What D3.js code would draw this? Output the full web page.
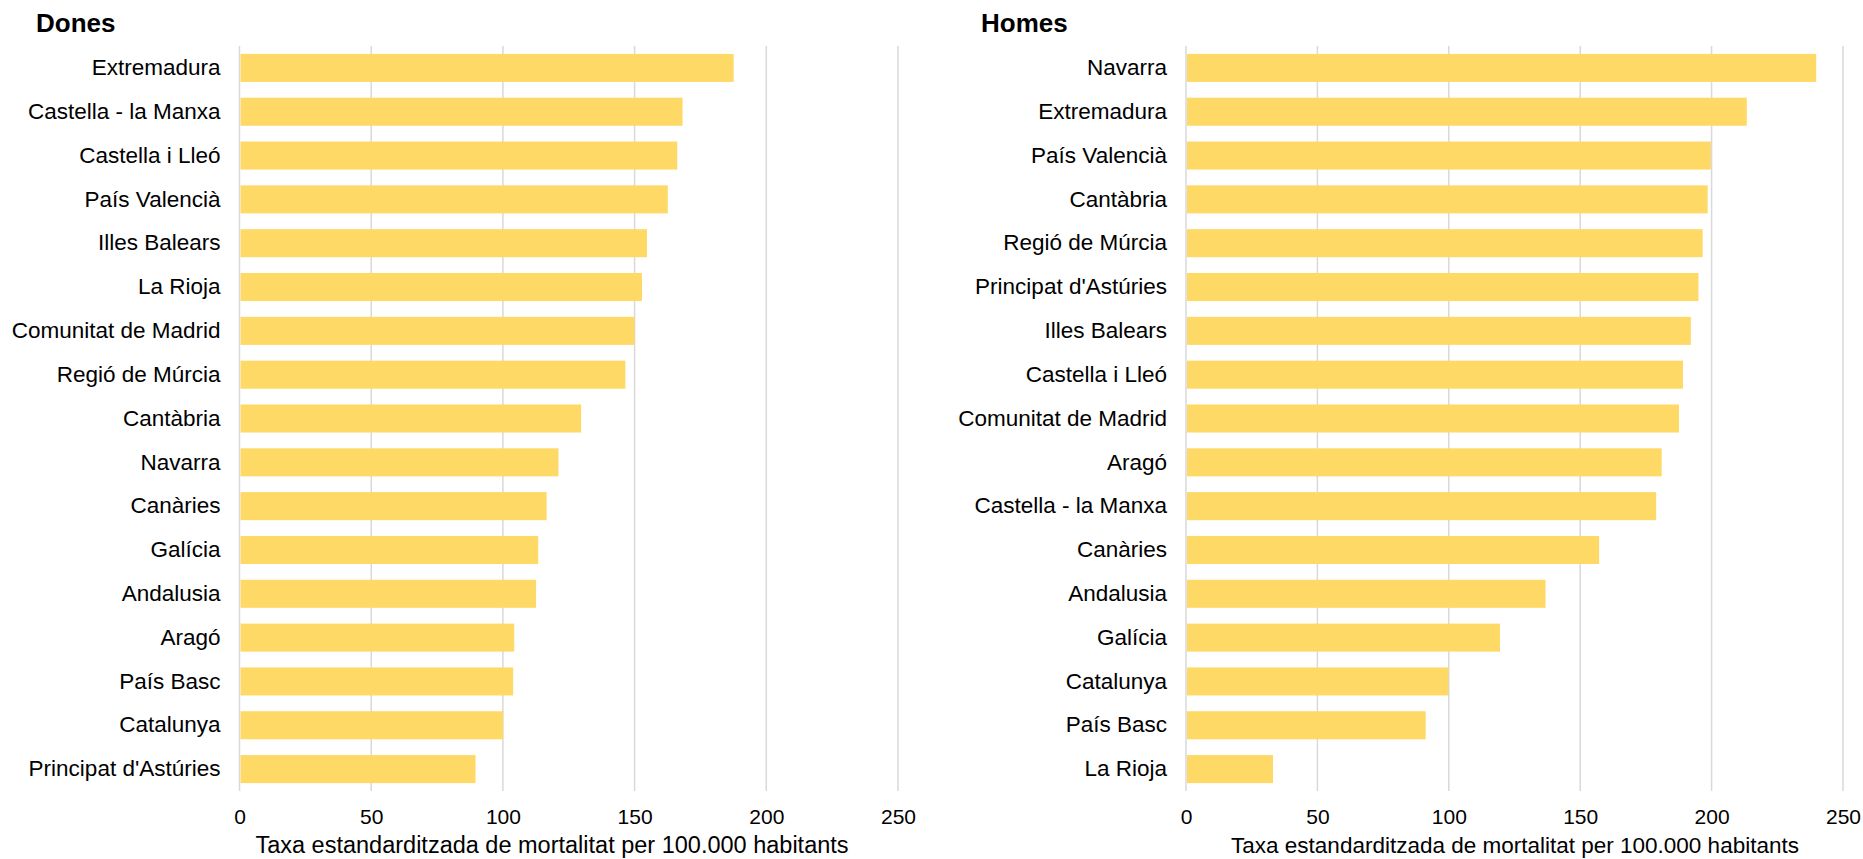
<!DOCTYPE html>
<html>
<head>
<meta charset="utf-8">
<script src="https://cdn.jsdelivr.net/npm/d3@7"></script>
<style>
  html, body { margin: 0; padding: 0; background: #fff; }
  svg { display: block; }
  text { font-family: "Liberation Sans", Arial, sans-serif; fill: #000; }
</style>
</head>
<body>
<svg id="chart" width="1863" height="859"></svg>
<script>
// Women: regions and standardised mortality rates
const donesRegions = [
  "Extremadura", "Castella - la Manxa", "Castella i Lleó", "País Valencià",
  "Illes Balears", "La Rioja", "Comunitat de Madrid", "Regió de Múrcia",
  "Cantàbria", "Navarra", "Canàries", "Galícia", "Andalusia", "Aragó",
  "País Basc", "Catalunya", "Principat d'Astúries"
];
const donesValues = [
  187.6, 168.2, 166.2, 162.6, 154.7, 152.8, 150.0, 146.5,
  129.7, 121.1, 116.6, 113.4, 112.6, 104.3, 103.9, 100.1, 89.6
];

// Men: regions and standardised mortality rates
const homesRegions = [
  "Navarra", "Extremadura", "País Valencià", "Cantàbria", "Regió de Múrcia",
  "Principat d'Astúries", "Illes Balears", "Castella i Lleó",
  "Comunitat de Madrid", "Aragó", "Castella - la Manxa", "Canàries",
  "Andalusia", "Galícia", "Catalunya", "País Basc", "La Rioja"
];
const homesValues = [
  239.8, 213.4, 199.7, 198.5, 196.6, 195.0, 192.1, 189.1,
  187.6, 181.0, 178.9, 157.2, 136.8, 119.5, 99.9, 91.2, 33.1
];

const xTicks = [0, 50, 100, 150, 200, 250];
const axisTitle = "Taxa estandarditzada de mortalitat per 100.000 habitants";

const svg = d3.select("#chart");
const barColor = "#FED966";
const gridColor = "#D9D9D9";

const panels = [
  { title: "Dones", regions: donesRegions, values: donesValues,
    x0: 239.5, x1: 898, titleX: 36, axisTitleX: 552, axisTitleSize: 23.5 },
  { title: "Homes", regions: homesRegions, values: homesValues,
    x0: 1186, x1: 1843, titleX: 981, axisTitleX: 1515, axisTitleSize: 22.5 }
];

const yTop = 46, yBottom = 791;

panels.forEach(p => {
  const g = svg.append("g");
  const x = d3.scaleLinear().domain([0, 250]).range([p.x0, p.x1]);
  const y = d3.scaleBand().domain(p.regions).range([yTop, yBottom])
    .paddingInner(0.36).paddingOuter(0.18);

  // vertical gridlines
  g.append("g").selectAll("line").data(xTicks).join("line")
    .attr("x1", d => x(d)).attr("x2", d => x(d))
    .attr("y1", yTop).attr("y2", yBottom)
    .attr("stroke", gridColor).attr("stroke-width", 1.5);

  // bars
  g.append("g").selectAll("rect").data(p.values).join("rect")
    .attr("x", x(0) + 1)
    .attr("y", (d, i) => y(p.regions[i]))
    .attr("width", d => x(d) - x(0) - 1)
    .attr("height", y.bandwidth())
    .attr("fill", barColor);

  // category labels
  const yAxis = d3.axisLeft(y).tickSize(0).tickPadding(19);
  const ya = g.append("g").attr("transform", `translate(${x(0)},0)`).call(yAxis);
  ya.select(".domain").remove();
  ya.selectAll("text").attr("font-size", 22.5).attr("fill", "#000");

  // value tick labels
  const xAxis = d3.axisBottom(x).tickValues(xTicks).tickSize(0).tickPadding(0)
    .tickFormat(d3.format("d"));
  const xa = g.append("g").attr("transform", `translate(0,${yBottom + 33})`).call(xAxis);
  xa.select(".domain").remove();
  xa.selectAll("text").attr("font-size", 21).attr("fill", "#000").attr("dy", 0);

  // axis title
  g.append("text")
    .attr("x", p.axisTitleX).attr("y", 853)
    .attr("text-anchor", "middle").attr("font-size", p.axisTitleSize)
    .text(axisTitle);

  // panel title
  g.append("text")
    .attr("x", p.titleX).attr("y", 32)
    .attr("font-size", 26).attr("font-weight", "bold")
    .text(p.title);
});

// let the axis text inherit the page font
svg.selectAll(".tick text").attr("font-family", null);
svg.selectAll("g[font-family]").attr("font-family", null);
</script>
</body>
</html>
